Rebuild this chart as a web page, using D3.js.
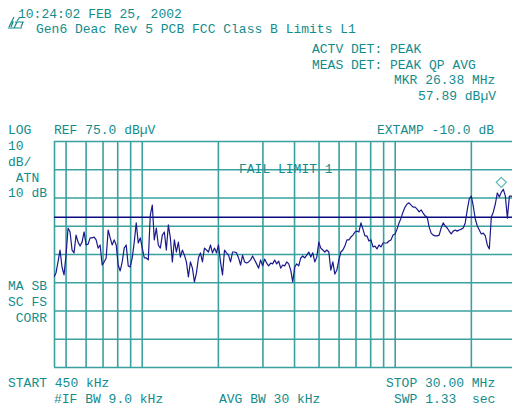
<!DOCTYPE html>
<html><head><meta charset="utf-8">
<script src="https://cdn.jsdelivr.net/npm/d3@7"></script>
<style>
html,body{margin:0;padding:0;background:#fff;}
svg text{font-family:"Liberation Mono","DejaVu Sans Mono",monospace;font-size:13px;fill:#138c8c;white-space:pre;}
</style></head>
<body><svg id="c" width="512" height="406"></svg>
<script>
// ---- data ----
const startMHz = 0.45, stopMHz = 30;
const refLevel = 75, dbPerDiv = 10, divisions = 8;
const limitLevel = 48; // FCC Class B limit (dBµV)
const gridFreqs = [0.5,0.6,0.7,0.8,0.9,1,2,3,4,5,6,7,8,9,10,20];
const markerFreq = 26.38, markerLevel = 57.89;
// trace amplitude (dBµV), evenly spaced sweep points on log frequency axis
const trace = [
26.9,28.3,32.2,36.4,30.4,27.6,34.6,44.2,42.8,36.4,
35.4,41.7,39.2,37.8,39.2,42.8,38.2,38.5,40.7,40.7,
41.0,40.0,37.1,38.2,31.1,32.2,33.6,43.5,40.7,38.2,
40.0,38.2,31.1,29.0,32.2,37.1,38.2,30.8,30.4,33.6,
39.2,46.0,38.9,40.7,37.1,33.6,33.6,32.9,48.8,52.3,
40.0,44.2,38.2,37.1,41.7,42.8,36.4,45.3,40.7,32.2,
40.0,35.7,39.2,33.9,36.4,34.6,32.2,26.9,32.2,30.0,
25.1,28.3,33.6,35.4,32.2,37.1,36.4,35.7,38.2,35.4,
37.1,35.4,38.2,32.2,27.6,36.4,35.4,34.6,32.2,35.7,
35.7,35.4,33.6,31.1,34.6,32.2,31.8,32.2,
32.9,34.3,32.9,31.5,30.0,32.9,30.8,33.2,31.8,30.8,
31.8,31.5,32.9,31.5,32.5,30.0,31.1,30.8,32.2,31.5,
29.3,25.1,30.4,31.5,30.8,33.6,34.3,33.6,34.6,35.7,
33.9,35.4,32.2,33.9,39.2,37.1,36.4,35.7,36.4,35.7,
29.3,32.2,27.9,29.3,32.9,35.7,36.4,37.8,
40.0,40.0,41.0,41.7,42.8,43.1,42.8,46.0,43.8,41.4,
41.4,39.6,40.0,37.5,37.8,36.8,38.2,37.5,38.9,38.9,
38.9,39.6,40.0,41.7,42.1,43.8,46.0,47.7,49.9,51.6,
52.7,53.1,52.3,51.6,51.6,50.9,49.9,50.6,49.5,48.5,
48.1,44.6,42.4,41.7,41.4,41.4,41.7,44.2,46.0,44.9,
44.2,43.1,42.1,43.1,43.5,43.1,43.5,43.8,44.2,46.0,
50.6,54.5,55.5,52.0,47.4,44.9,43.5,42.1,42.4,41.4,
38.2,36.8,48.1,49.9,52.7,56.6,55.2,56.9,57.89,55.5,
47.7,55.5,55.5,54.8,55.2
];
const headerLines = ["10:24:02 FEB 25, 2002", "Gen6 Deac Rev 5 PCB FCC Class B Limits L1"];
const detLines = ["ACTV DET: PEAK", "MEAS DET: PEAK QP AVG"];
const markerLines = ["MKR 26.38 MHz", "57.89 dBµV"];
const leftLabels = ["LOG","10","dB/"," ATN","10 dB"];
const leftLabels2 = ["MA SB","SC FS"," CORR"];
const refText = "REF 75.0 dBµV";
const extampText = "EXTAMP -10.0 dB";
const failText = "FAIL LIMIT 1";
const footLeft = ["START 450 kHz", "#IF BW 9.0 kHz"];
const footMid = "AVG BW 30 kHz";
const footRight = ["STOP 30.00 MHz", "SWP 1.33  sec"];

// ---- layout ----
const L = 54, T = 141, B = 367, R = 515.4;
const svg = d3.select("#c");
svg.append("rect").attr("width",512).attr("height",406).attr("fill","#fff");

const x = d3.scaleLog().domain([startMHz, stopMHz]).range([L, R]);
const bottomLevel = refLevel - dbPerDiv*divisions;
const y = d3.scaleLinear().domain([bottomLevel, refLevel]).range([B, T]);
const gridColor = "#3aa0a0";

// horizontal grid via axis
const yTicks = d3.range(divisions+1).map(i => bottomLevel + i*dbPerDiv);
const gy = svg.append("g").attr("transform",`translate(${L},0)`)
  .call(d3.axisLeft(y).tickValues(yTicks).tickSize(-(R-L)).tickFormat(""));
// vertical grid via axis
const gx = svg.append("g").attr("transform",`translate(0,${B})`)
  .call(d3.axisBottom(x).tickValues([startMHz].concat(gridFreqs)).tickSize(-(B-T)).tickFormat(""));
[gx,gy].forEach(g => {
  g.select(".domain").remove();
  g.selectAll("line").attr("stroke",gridColor).attr("stroke-width",1.6);
});

// limit line
svg.append("line").attr("x1",x(startMHz)).attr("x2",x(stopMHz))
  .attr("y1",y(limitLevel)).attr("y2",y(limitLevel))
  .attr("stroke","#0a0a80").attr("stroke-width",1.5);

// trace
const n = trace.length;
const pts = trace.map((v,i) => [startMHz*Math.pow(stopMHz/startMHz, i/(n-1)), v]);
svg.append("clipPath").attr("id","pc").append("rect")
  .attr("x",L).attr("y",T).attr("width",R-L).attr("height",B-T);
svg.append("path").datum(pts).attr("clip-path","url(#pc)")
  .attr("fill","none").attr("stroke","#1a1a8c").attr("stroke-width",1.2)
  .attr("stroke-linejoin","round")
  .attr("d", d3.line().x(d=>x(d[0])).y(d=>y(d[1])));

// marker diamond
const mx = x(markerFreq), my = y(markerLevel) - 7;
svg.append("path").attr("d",`M${mx},${my-5}L${mx+5},${my}L${mx},${my+5}L${mx-5},${my}Z`)
  .attr("fill","none").attr("stroke","#5fb8b8").attr("stroke-width",1.3);

// texts
function txt(s, tx, ty){ svg.append("text").attr("x",tx).attr("y",ty).text(s); }
txt(headerLines[0], 18, 18);
txt(headerLines[1], 36, 33);
detLines.forEach((s,i)=>txt(s, 312, 53+i*15.5));
txt(markerLines[0], 394, 84);
txt(markerLines[1], 418, 100);
const leftY = [134,150,166,182,197];
leftLabels.forEach((s,i)=>txt(s, 8, leftY[i]));
const left2Y = [290,306,322];
leftLabels2.forEach((s,i)=>txt(s, 8, left2Y[i]));
txt(refText, 54, 134);
txt(extampText, 377, 134);
txt(failText, 239, 173);
txt(footLeft[0], 8, 387);
txt(footLeft[1], 54, 403);
txt(footMid, 219, 403);
txt(footRight[0], 386, 387);
txt(footRight[1], 394, 403);

// logo
const lg = svg.append("g").attr("stroke","#138c8c").attr("fill","none").attr("stroke-width",1.2);
lg.append("path").attr("d","M9,27 L14,17 M11,22 L13,22 L11,27 M15,22 L23,22 L21,27 M17,22 L14,28 M8,28 L22,28 M20,17 L17,21");
</script></body></html>
